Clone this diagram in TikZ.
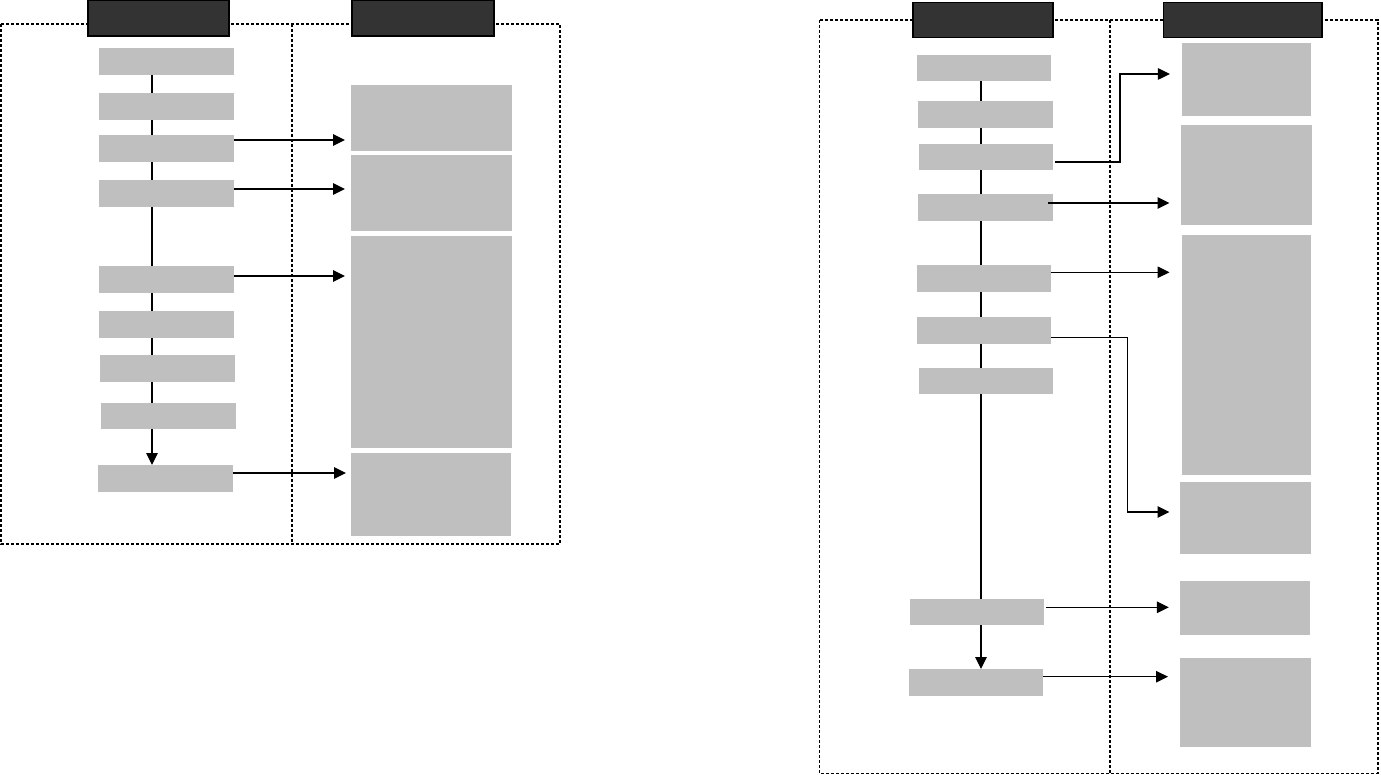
\documentclass[tikz,border=0pt]{standalone}
\usetikzlibrary{arrows.meta,calc,backgrounds}
\definecolor{boxgray}{HTML}{BFBFBF}
\definecolor{headdark}{HTML}{333333}
\tikzset{
  gbox/.style={fill=boxgray,draw=none,inner sep=0pt,outer sep=0pt,anchor=north west},
  hbox/.style={fill=headdark,draw=black,line width=1.5pt,inner sep=0pt,outer sep=0pt,anchor=north west},
  frame/.style={draw=black,line width=1.4pt,dash pattern=on 3pt off 2pt},
  arr/.style={draw=black,line width=1.2pt,-{Triangle[length=12pt,width=11.5pt]}},
}
\newcommand\mybox[6]{\node[#1,minimum width=#5pt,minimum height=#6pt] (#2) at (#3,#4) {};}
\begin{document}
\begin{tikzpicture}[x=1pt,y=-1pt]
\useasboundingbox (0,0) rectangle (1381,775);
% ---------- left diagram ----------
\draw[frame] (1,24) rectangle (560,544);
\draw[frame] (292,24) -- (292,544);
\mybox{hbox}{H1}{88}{0}{141}{36}
\mybox{hbox}{H2}{352}{0}{142}{36}
\mybox{gbox}{L1}{99}{48}{135}{27}
\mybox{gbox}{L2}{99}{93}{135}{27}
\mybox{gbox}{L3}{99}{135}{135}{27}
\mybox{gbox}{L4}{99}{180}{135}{27}
\mybox{gbox}{L5}{99}{266}{135}{27}
\mybox{gbox}{L6}{99}{311}{135}{27}
\mybox{gbox}{L7}{100}{355}{135}{27}
\mybox{gbox}{L8}{101}{403}{135}{26}
\mybox{gbox}{L9}{98}{465}{135}{27}
\mybox{gbox}{R1}{351}{85}{161}{66}
\mybox{gbox}{R2}{351}{155}{161}{76}
\mybox{gbox}{R3}{351}{236}{161}{212}
\mybox{gbox}{R4}{351}{453}{160}{83}
\coordinate (vx) at (152,0);
\begin{scope}[on background layer]
\draw[arr] (L1.south -| vx) -- (L9.north -| vx);
\end{scope}
\coordinate (a3) at ($(L3.north east)+(0,5)$);
\coordinate (a4) at ($(L4.north east)+(0,9)$);
\coordinate (a5) at ($(L5.north east)+(0,10)$);
\coordinate (a9) at ($(L9.north east)+(0,8)$);
\draw[arr,shorten >=6pt] (a3) -- (a3 -| R1.west);
\draw[arr,shorten >=6pt] (a4) -- (a4 -| R2.west);
\draw[arr,shorten >=6pt] (a5) -- (a5 -| R3.west);
\draw[arr,shorten >=5pt] (a9) -- (a9 -| R4.west);
% ---------- right diagram ----------
\draw[frame] (819.3,20) rectangle (1378,773.3);
\draw[frame] (1110,20) -- (1110,773.3);
\mybox{hbox}{H3}{913.2}{2.3}{140}{35}
\mybox{hbox}{H4}{1163.4}{2.3}{158.8}{35}
\mybox{gbox}{A1}{917.2}{55}{134}{25.7}
\mybox{gbox}{A2}{917.9}{101}{135}{26.7}
\mybox{gbox}{A3}{919}{144}{134}{25.7}
\mybox{gbox}{A4}{917.9}{194}{135}{26.7}
\mybox{gbox}{A5}{917.2}{265}{134}{26.7}
\mybox{gbox}{A6}{917.2}{317}{134}{26.7}
\mybox{gbox}{A7}{919}{368}{134}{25.7}
\mybox{gbox}{A8}{910}{599}{134}{25.7}
\mybox{gbox}{A9}{908.9}{669}{134.3}{26.7}
\mybox{gbox}{B1}{1182.1}{43}{129}{73}
\mybox{gbox}{B2}{1181}{125}{131}{99.7}
\mybox{gbox}{B3}{1182.1}{235}{129}{240}
\mybox{gbox}{B4}{1180}{482}{131}{71.7}
\mybox{gbox}{B5}{1180}{581}{130}{53.7}
\mybox{gbox}{B6}{1180}{658}{131}{88.7}
\coordinate (wx) at (981,0);
\begin{scope}[on background layer]
\draw[arr] (A1.south -| wx) -- (A9.north -| wx);
\end{scope}
% bent connector A3 -> B1
\coordinate (pa) at ($(A3.north east)+(2,18)$);
\coordinate (ka) at (1120,74);
\draw[arr,shorten >=12.2pt] (pa) -- (pa -| ka) -- (ka) -- (ka -| B1.west);
% straight connectors
\coordinate (p4) at ($(A4.north east)+(-5,9)$);
\coordinate (p5) at ($(A5.north east)+(0,7.3)$);
\coordinate (p8) at ($(A8.north east)+(2,8.3)$);
\coordinate (p9) at ($(A9.north east)+(0,7.7)$);
\draw[arr,shorten >=11.5pt] (p4) -- (p4 -| B2.west);
\draw[arr,shorten >=12.6pt] (p5) -- (p5 -| B3.west);
\draw[arr,shorten >=11.2pt] (p8) -- (p8 -| B5.west);
\draw[arr,shorten >=12pt] (p9) -- (p9 -| B6.west);
% bent connector A6 -> B4
\coordinate (p6) at ($(A6.north east)+(0,20.3)$);
\coordinate (kd) at (1127.6,512);
\draw[arr,shorten >=10.5pt] (p6) -- (p6 -| kd) -- (kd) -- (kd -| B4.west);
\end{tikzpicture}
\end{document}
